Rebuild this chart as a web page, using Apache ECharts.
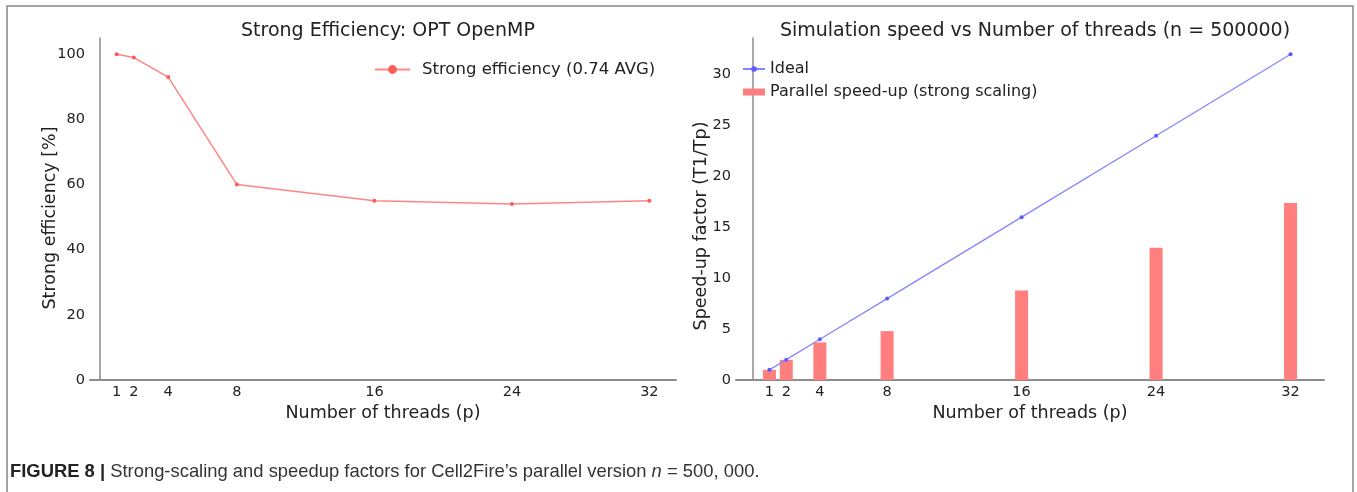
<!DOCTYPE html>
<html>
<head>
<meta charset="utf-8">
<script src="https://cdn.jsdelivr.net/npm/echarts@6/dist/echarts.min.js"></script>
<style>
  html, body { margin: 0; padding: 0; background: #fff; }
  #chart { width: 1357px; height: 492px; }
</style>
</head>
<body>
<div id="chart"></div>
<script>
// thread counts on both x axes
var threads = [1, 2, 4, 8, 16, 24, 32];
// left panel: strong efficiency in %
var efficiency = [100, 99, 93, 60, 55, 54, 55];
// right panel: ideal and measured speed-up
var ideal = [1, 2, 4, 8, 16, 24, 32];
var speedup = [1.0, 1.98, 3.7, 4.8, 8.8, 13.0, 17.4];
var effTicks = [0, 20, 40, 60, 80, 100];
var speedTicks = [0, 5, 10, 15, 20, 25, 30];

function pairs(xs, ys) {
  return xs.map(function (x, i) { return [x, ys[i]]; });
}

var font = 'DejaVu Sans';
var axisGray = '#8c8c8c';
var txt = '#222';

var chart = echarts.init(document.getElementById('chart'));

function xAxisOpt(idx, min, max) {
  return {
    type: 'value', gridIndex: idx, min: min, max: max,
    name: 'Number of threads (p)', nameLocation: 'middle', nameGap: 24,
    nameTextStyle: { fontFamily: font, fontSize: 17.5, color: txt },
    axisLine: { show: true, lineStyle: { color: axisGray, width: 2 } },
    axisTick: { show: false },
    splitLine: { show: false },
    axisLabel: { customValues: threads, fontFamily: font, fontSize: 14.5, color: txt, margin: 5 }
  };
}

var option = {
  animation: false,
  backgroundColor: '#fff',
  title: [
    { text: 'Strong Efficiency: OPT OpenMP', left: 383, top: 17, textAlign: 'center',
      textStyle: { fontFamily: font, fontSize: 19, fontWeight: 'normal', color: txt } },
    { text: 'Simulation speed vs Number of threads (n = 500000)', left: 1030, top: 17, textAlign: 'center',
      textStyle: { fontFamily: font, fontSize: 19, fontWeight: 'normal', color: txt } }
  ],
  legend: [
    { data: ['Strong efficiency (0.74 AVG)'], left: 374, top: 61, padding: 0,
      itemWidth: 35, itemHeight: 11,
      textStyle: { fontFamily: font, fontSize: 16.5, color: txt, padding: [0, 0, 0, 7] } },
    { data: ['Ideal', { name: 'Parallel speed-up (strong scaling)', icon: 'rect' }], orient: 'vertical',
      left: 742, top: 61, padding: 0, itemGap: 7, itemWidth: 22, itemHeight: 7,
      textStyle: { fontFamily: font, fontSize: 16, color: txt } }
  ],
  grid: [
    { left: 90, right: 681, top: 38, bottom: 112 },
    { left: 736, right: 33, top: 38, bottom: 112 }
  ],
  xAxis: [xAxisOpt(0, -0.55, 33.55), xAxisOpt(1, -0.99, 33.99)],
  yAxis: [
    { type: 'value', gridIndex: 0, min: 0, max: 105,
      name: 'Strong efficiency [%]', nameLocation: 'middle', nameGap: 31, nameMoveOverlap: false,
      nameTextStyle: { fontFamily: font, fontSize: 17.5, color: txt, padding: [0, 18, 0, 0] },
      axisLine: { show: true, lineStyle: { color: axisGray, width: 1.5 } },
      axisTick: { show: false }, splitLine: { show: false },
      axisLabel: { customValues: effTicks, fontFamily: font, fontSize: 14.5, color: txt, margin: 5 } },
    { type: 'value', gridIndex: 1, min: 0, max: 33.6,
      name: 'Speed-up factor (T1/Tp)', nameLocation: 'middle', nameGap: 26, nameMoveOverlap: false,
      nameTextStyle: { fontFamily: font, fontSize: 17.5, color: txt, padding: [0, 34, 0, 0] },
      axisLine: { show: true, lineStyle: { color: axisGray, width: 1.5 } },
      axisTick: { show: false }, splitLine: { show: false },
      axisLabel: { customValues: speedTicks, fontFamily: font, fontSize: 14.5, color: txt, margin: 5 } }
  ],
  series: [
    { name: 'Strong efficiency (0.74 AVG)', type: 'line', xAxisIndex: 0, yAxisIndex: 0,
      data: pairs(threads, efficiency), symbol: 'circle', symbolSize: 4,
      lineStyle: { color: '#ff8585', width: 1.5 },
      itemStyle: { color: '#ff5a5a' } },
    { name: 'Parallel speed-up (strong scaling)', type: 'bar', xAxisIndex: 1, yAxisIndex: 1,
      data: pairs(threads, speedup), barWidth: 13,
      itemStyle: { color: '#ff7f7f' } },
    { name: 'Ideal', type: 'line', xAxisIndex: 1, yAxisIndex: 1, z: 5,
      data: pairs(threads, ideal), symbol: 'circle', symbolSize: 4,
      lineStyle: { color: '#8585ff', width: 1.3 },
      itemStyle: { color: '#5a5aff' } }
  ],
  graphic: [
    { type: 'polyline', silent: true,
      shape: { points: [[7, 492], [7, 6], [1353, 6], [1353, 492]] },
      style: { stroke: '#888', lineWidth: 1.5, fill: null } },
    { type: 'text', silent: true, x: 10, y: 472,
      style: {
        text: '{b|FIGURE 8 |} Strong-scaling and speedup factors for Cell2Fire\u2019s parallel version {i|n} = 500, 000.',
        fontFamily: 'Liberation Sans', fontSize: 18.4, fill: '#333', verticalAlign: 'middle',
        rich: {
          b: { fontFamily: 'Liberation Sans', fontSize: 18.4, fontWeight: 'bold', fill: '#222' },
          i: { fontFamily: 'Liberation Sans', fontSize: 18.4, fontStyle: 'italic', fill: '#333' }
        }
      } }
  ]
};

chart.setOption(option);
</script>
</body>
</html>
